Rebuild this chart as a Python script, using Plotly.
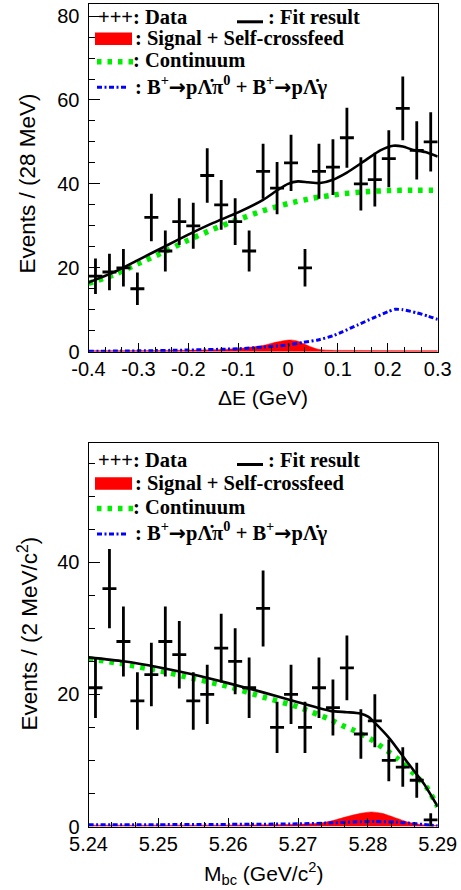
import numpy as np
import plotly.graph_objects as go

W, H = 461, 890

# ---------------- Top panel: Delta E ----------------
de_centers = [-0.386, -0.358, -0.330, -0.302, -0.274, -0.246, -0.218, -0.190, -0.162,
              -0.134, -0.106, -0.078, -0.050, -0.022, 0.006, 0.034, 0.062, 0.090,
              0.118, 0.146, 0.174, 0.202, 0.230, 0.258, 0.286]
de_counts = [18, 19, 20, 15, 32, 24, 31, 30, 42, 35, 31, 24, 43, 39, 45, 20, 43, 44,
             51, 40, 41, 46, 58, 48, 50]
de_halfbin = 0.014

de_fit_x = [-0.40, -0.35, -0.30, -0.25, -0.20, -0.15, -0.10, -0.05, -0.02, 0.00, 0.02,
            0.04, 0.064, 0.09, 0.118, 0.151, 0.185, 0.211, 0.23, 0.251, 0.275, 0.30]
de_fit_y = [16.5, 18.9, 21.9, 24.9, 27.9, 30.7, 33.2, 36.2, 38.6, 40.0, 40.6,
            40.4, 40.2, 41.0, 42.7, 45.3, 48.0, 49.1, 48.9, 48.1, 47.6, 46.5]

de_cont_x = [-0.40, -0.35, -0.30, -0.25, -0.20, -0.15, -0.10, -0.05, 0.00, 0.05, 0.10,
             0.15, 0.20, 0.25, 0.30]
de_cont_y = [16.3, 18.3, 21.0, 23.7, 26.6, 29.2, 31.5, 33.6, 35.3, 36.6, 37.5,
             38.1, 38.4, 38.5, 38.5]

de_peak_x = [-0.40, -0.30, -0.20, -0.10, -0.05, 0.00, 0.03, 0.06, 0.09, 0.11, 0.14,
             0.17, 0.20, 0.215, 0.23, 0.257, 0.28, 0.30]
de_peak_y = [0.1, 0.2, 0.4, 0.7, 1.1, 1.6, 2.2, 2.8, 3.8, 4.8, 6.4,
             8.0, 9.5, 10.1, 10.0, 9.3, 8.5, 7.7]

de_sig_x = [-0.40, -0.25, -0.18, -0.12, -0.08, -0.05, -0.03, -0.01, 0.005, 0.02, 0.035,
            0.045, 0.06, 0.08, 0.12, 0.30]
de_sig_y = [0.25, 0.3, 0.4, 0.6, 1.0, 1.5, 2.1, 2.6, 2.8, 2.5, 1.7,
            1.2, 0.6, 0.35, 0.3, 0.25]

de_tickvals = [-0.4, -0.3, -0.2, -0.1, 0.0, 0.1, 0.2, 0.3]
de_ticktext = ["-0.4", "-0.3", "-0.2", "-0.1", "0", "0.1", "0.2", "0.3"]
de_ytickvals = [0, 20, 40, 60, 80]
de_yticktext = ["0", "20", "40", "60", "80"]

# ---------------- Bottom panel: Mbc ----------------
mbc_centers = [5.241, 5.243, 5.245, 5.247, 5.249, 5.251, 5.253, 5.255, 5.257, 5.259,
               5.261, 5.263, 5.265, 5.267, 5.269, 5.271, 5.273, 5.275, 5.277, 5.279,
               5.281, 5.283, 5.285, 5.287, 5.289]
mbc_counts = [21, 36, 28, 19, 23, 28, 26, 19, 20, 27, 25, 21, 33, 15, 20, 15, 21, 18,
              24, 14, 16, 10, 9, 7, 1]
mbc_halfbin = 0.001

mbc_fit_x = [5.24, 5.245, 5.25, 5.255, 5.26, 5.265, 5.27, 5.2746, 5.277, 5.2789, 5.2801,
             5.2808, 5.2832, 5.2856, 5.288, 5.29]
mbc_fit_y = [25.6, 25.0, 24.1, 23.0, 21.7, 20.3, 18.8, 17.5, 17.3, 17.1, 16.6,
             15.9, 13.2, 9.8, 6.5, 3.0]

mbc_cont_x = [5.24, 5.245, 5.25, 5.255, 5.26, 5.265, 5.27, 5.2746, 5.2765, 5.2779,
              5.2806, 5.2818, 5.283, 5.2842, 5.2863, 5.2875, 5.2885, 5.2894, 5.29]
mbc_cont_y = [25.4, 24.6, 23.6, 22.4, 21.2, 19.6, 18.1, 16.2, 15.2, 14.6,
              13.1, 12.2, 11.3, 10.3, 8.3, 7.0, 5.8, 4.2, 3.0]

mbc_peak_x = [5.24, 5.25, 5.26, 5.27, 5.275, 5.278, 5.281, 5.284, 5.286, 5.288, 5.29]
mbc_peak_y = [0.25, 0.28, 0.32, 0.4, 0.55, 0.7, 0.75, 0.65, 0.5, 0.3, 0.1]

mbc_sig_x = [5.24, 5.265, 5.270, 5.273, 5.275, 5.277, 5.279, 5.2805, 5.282, 5.284,
             5.286, 5.288, 5.29]
mbc_sig_y = [0.2, 0.25, 0.35, 0.5, 0.9, 1.5, 2.0, 2.2, 2.0, 1.3, 0.6, 0.25, 0.15]

mbc_tickvals = [5.24, 5.25, 5.26, 5.27, 5.28, 5.29]
mbc_ticktext = ["5.24", "5.25", "5.26", "5.27", "5.28", "5.29"]
mbc_ytickvals = [0, 20, 40]
mbc_yticktext = ["0", "20", "40"]

ARROW = "<span style=\"font-family:'DejaVu Sans'\">\u2192</span>"
legend_labels = [": Data", ": Fit result", ": Signal + Self-crossfeed", ": Continuum",
                 ": B<sup>+</sup>" + ARROW + "p\u039b\u0307\u03c0<sup>0</sup> + B<sup>+</sup>"
                 + ARROW + "p\u039b\u0307\u03b3"]

RED = "#ff0000"
GREEN = "#00ee00"
BLUE = "#0000ff"
GREEN_DASH = "4.5px,6px"
BLUE_DASH = "5px,2.5px,2px,2.5px"

fig = go.Figure()


def add_panel(xa, ya, cx, cnt, hb, fx, fy, ctx, cty, px_, py_, sx, sy):
    fig.add_trace(go.Scatter(x=sx, y=sy, xaxis=xa, yaxis=ya, mode="lines",
                             line=dict(color=RED, width=0.5, shape="spline", smoothing=0.7),
                             fill="tozeroy", fillcolor=RED, showlegend=False,
                             hoverinfo="skip"))
    fig.add_trace(go.Scatter(x=ctx, y=cty, xaxis=xa, yaxis=ya, mode="lines",
                             line=dict(color=GREEN, width=5.5, dash=GREEN_DASH,
                                       shape="spline", smoothing=0.6),
                             showlegend=False, hoverinfo="skip"))
    fig.add_trace(go.Scatter(x=px_, y=py_, xaxis=xa, yaxis=ya, mode="lines",
                             line=dict(color=BLUE, width=3, dash=BLUE_DASH,
                                       shape="spline", smoothing=0.6),
                             showlegend=False, hoverinfo="skip"))
    fig.add_trace(go.Scatter(x=fx, y=fy, xaxis=xa, yaxis=ya, mode="lines",
                             line=dict(color="black", width=2.6, shape="spline",
                                       smoothing=0.6),
                             showlegend=False, hoverinfo="skip"))
    fig.add_trace(go.Scatter(x=cx, y=cnt, xaxis=xa, yaxis=ya, mode="markers",
                             marker=dict(size=1, color="black"),
                             error_y=dict(type="data", array=np.sqrt(cnt), color="black",
                                          thickness=2.8, width=0),
                             error_x=dict(type="constant", value=hb, color="black",
                                          thickness=2.8, width=0),
                             showlegend=False, hoverinfo="skip"))


add_panel("x", "y", de_centers, de_counts, de_halfbin, de_fit_x, de_fit_y,
          de_cont_x, de_cont_y, de_peak_x, de_peak_y, de_sig_x, de_sig_y)
add_panel("x2", "y2", mbc_centers, mbc_counts, mbc_halfbin, mbc_fit_x, mbc_fit_y,
          mbc_cont_x, mbc_cont_y, mbc_peak_x, mbc_peak_y, mbc_sig_x, mbc_sig_y)


def fx_(p):
    return p / W


def fy_(p):
    return 1 - p / H


xdom = [fx_(88.5), fx_(437.7)]
tickfont = dict(family="Liberation Sans, Arial, sans-serif", size=20, color="black")

common_x = dict(showline=True, mirror=True, linecolor="black", linewidth=1,
                ticks="inside", ticklen=9, tickwidth=1, tickcolor="black",
                showgrid=False, zeroline=False, tickfont=tickfont, tickmode="array",
                ticklabelstandoff=-1, automargin=False)
common_y = dict(showline=True, mirror=True, linecolor="black", linewidth=1,
                ticks="inside", ticklen=11, tickwidth=1, tickcolor="black",
                showgrid=False, zeroline=False, tickfont=tickfont, tickmode="array",
                ticklabelstandoff=4, automargin=False)

fig.update_layout(
    width=W, height=H, autosize=False,
    margin=dict(l=0, r=0, t=0, b=0, pad=0, autoexpand=False),
    paper_bgcolor="white", plot_bgcolor="white",
    showlegend=False,
    xaxis=dict(domain=xdom, anchor="y", range=[-0.4, 0.3], tickvals=de_tickvals,
               ticktext=de_ticktext,
               minor=dict(ticks="inside", ticklen=5, tickcolor="black", tickwidth=1,
                          tick0=-0.4, dtick=0.1 / 3, showgrid=False),
               **common_x),
    yaxis=dict(domain=[fy_(351.7), fy_(3.5)], anchor="x", range=[0, 83],
               tickvals=de_ytickvals, ticktext=de_yticktext,
               minor=dict(ticks="inside", ticklen=6, tickcolor="black", tickwidth=1,
                          tick0=0, dtick=5, showgrid=False),
               **common_y),
    xaxis2=dict(domain=xdom, anchor="y2", range=[5.24, 5.29], tickvals=mbc_tickvals,
                ticktext=mbc_ticktext,
                minor=dict(ticks="inside", ticklen=5, tickcolor="black", tickwidth=1,
                           tick0=5.24, dtick=0.01 / 3, showgrid=False),
                **common_x),
    yaxis2=dict(domain=[fy_(826.5), fy_(443.3)], anchor="x2", range=[0, 58],
                tickvals=mbc_ytickvals, ticktext=mbc_yticktext,
                minor=dict(ticks="inside", ticklen=6, tickcolor="black", tickwidth=1,
                           tick0=0, dtick=5, showgrid=False),
                **common_y),
)

titlefont = dict(family="Liberation Sans, Arial, sans-serif", size=21, color="black")
ytitlefont = dict(family="Liberation Sans, Arial, sans-serif", size=22.5, color="black")
legfont = dict(family="Liberation Serif, Times New Roman, serif", size=20.5, color="black")

ann = []
ann.append(dict(x=fx_(27), y=fy_(183.5), text="Events / (28 MeV)", textangle=-90,
                font=ytitlefont))
ann.append(dict(x=fx_(27), y=fy_(633.5), text="Events / (2 MeV/c<sup>2</sup>)",
                textangle=-90, font=ytitlefont))
ann.append(dict(x=fx_(263), y=fy_(397.5), text="\u0394E (GeV)", font=titlefont))
ann.append(dict(x=fx_(263), y=fy_(873.5), text="M<sub>bc</sub> (GeV/c<sup>2</sup>)",
                font=titlefont))

shapes = []


def legend(rows):
    # rows: y-centres (px) of text rows: data, signal, continuum, peaking
    yd, ys, yc, yp = rows
    ann.append(dict(x=fx_(96), y=fy_(yd), text="<b>+++" + legend_labels[0] + "</b>",
                    xanchor="left", font=legfont))
    ann.append(dict(x=fx_(266), y=fy_(yd), text="<b>" + legend_labels[1] + "</b>",
                    xanchor="left", font=legfont))
    ann.append(dict(x=fx_(133), y=fy_(ys), text="<b>" + legend_labels[2] + "</b>",
                    xanchor="left", font=legfont))
    ann.append(dict(x=fx_(131), y=fy_(yc), text="<b>" + legend_labels[3] + "</b>",
                    xanchor="left", font=legfont))
    ann.append(dict(x=fx_(133), y=fy_(yp), text="<b>" + legend_labels[4] + "</b>",
                    xanchor="left", font=legfont))
    shapes.append(dict(type="line", xref="paper", yref="paper", x0=fx_(237), x1=fx_(263),
                       y0=fy_(yd + 4.5), y1=fy_(yd + 4.5),
                       line=dict(color="black", width=3)))
    shapes.append(dict(type="rect", xref="paper", yref="paper", x0=fx_(95), x1=fx_(132),
                       y0=fy_(ys - 6), y1=fy_(ys + 6.5), fillcolor=RED,
                       line=dict(color=RED, width=0)))
    shapes.append(dict(type="line", xref="paper", yref="paper", x0=fx_(97), x1=fx_(134),
                       y0=fy_(yc + 1.7), y1=fy_(yc + 1.7),
                       line=dict(color=GREEN, width=5.5, dash=GREEN_DASH)))
    shapes.append(dict(type="line", xref="paper", yref="paper", x0=fx_(97), x1=fx_(128),
                       y0=fy_(yp + 2.3), y1=fy_(yp + 2.3),
                       line=dict(color=BLUE, width=3, dash=BLUE_DASH)))


legend((17.3, 38.6, 60.0, 85.0))
legend((460.0, 483.3, 506.7, 531.7))

for a in ann:
    a.setdefault("xref", "paper")
    a.setdefault("yref", "paper")
    a.setdefault("showarrow", False)
    a.setdefault("xanchor", "center")
    a.setdefault("yanchor", "middle")

fig.update_layout(annotations=ann, shapes=shapes)
fig.write_html("out.html",
               config={"displayModeBar": False},
               post_script="document.body.style.margin='0px';"
                           "document.body.style.overflow='hidden';")
